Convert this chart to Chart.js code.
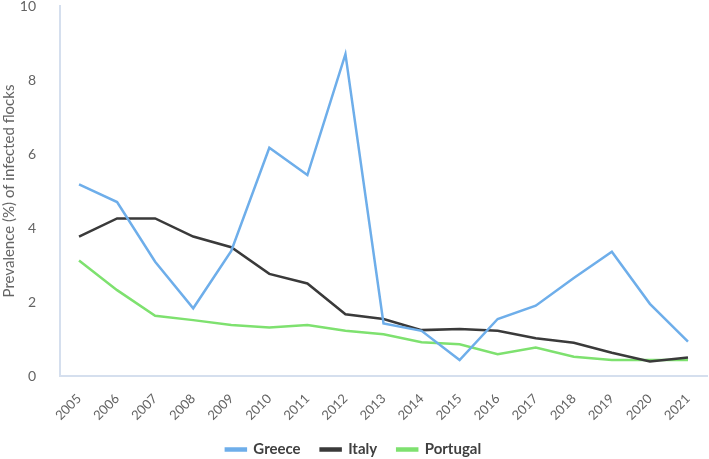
<!DOCTYPE html>
<html>
<head>
<meta charset="utf-8">
<script src="https://cdn.jsdelivr.net/npm/chart.js@4/dist/chart.umd.min.js"></script>
<style>
  html, body { margin: 0; padding: 0; background: #fff; }
  #wrap { width: 709px; height: 459px; position: relative; }
</style>
</head>
<body>
<div id="wrap"><canvas id="chart"></canvas></div>
<script>
// values
const years = ["2005", "2006", "2007", "2008", "2009", "2010", "2011", "2012", "2013",
    "2014", "2015", "2016", "2017", "2018", "2019", "2020", "2021"];
const greece = [5.18, 4.70, 3.09, 1.83, 3.38, 6.17, 5.43, 8.70, 1.42, 1.22, 0.43, 1.54, 1.90, 2.65, 3.36, 1.95, 0.93];
const italy = [3.77, 4.26, 4.26, 3.77, 3.48, 2.76, 2.50, 1.67, 1.54, 1.24, 1.27, 1.22, 1.02, 0.90, 0.63, 0.39, 0.50];
const portugal = [3.12, 2.32, 1.63, 1.51, 1.38, 1.31, 1.38, 1.22, 1.13, 0.91, 0.86, 0.59, 0.77, 0.52, 0.43, 0.43, 0.43];
const yTicks = [0, 2, 4, 6, 8, 10];

const axisColor = "#d5dfee";
const tickColor = "#646464";
const fontFamily = "Lato, 'Open Sans', sans-serif";

function series(label, data, color) {
    return {
        label,
        data,
        borderColor: color,
        backgroundColor: color,
        borderWidth: 2.5,
        pointRadius: 0,
        pointHoverRadius: 0,
        tension: 0,
        fill: false,
    };
}

new Chart(document.getElementById("chart"), {
    type: "line",
    data: {
        labels: years,
        datasets: [
            series("Greece", greece, "#6eaeea"),
            series("Italy", italy, "#3a3a3a"),
            series("Portugal", portugal, "#7ee16f"),
        ],
    },
    options: {
        responsive: true,
        maintainAspectRatio: false,
        animation: false,
        // legend sits low in the reference, so the bottom padding is pulled negative
        layout: { padding: { top: 0, right: 2, bottom: -8, left: 0 } },
        scales: {
            x: {
                offset: true,
                afterFit: (scale) => { scale.height = 46; },
                grid: { display: false },
                border: { color: axisColor, width: 2 },
                ticks: {
                    color: tickColor,
                    font: { family: fontFamily, size: 13 },
                    minRotation: 45,
                    maxRotation: 45,
                    autoSkip: false,
                    padding: 7,
                },
            },
            y: {
                min: 0,
                max: 10,
                afterBuildTicks: (scale) => { scale.ticks = yTicks.map(v => ({ value: v })); },
                afterFit: (scale) => {
                    scale.width = 60;
                    scale.paddingTop = 6;
                    scale.paddingBottom = 0;
                },
                grid: { display: false },
                border: { color: axisColor, width: 2 },
                ticks: {
                    color: tickColor,
                    font: { family: fontFamily, size: 14 },
                    padding: 16,
                },
                title: {
                    display: true,
                    text: "Prevalence (%) of infected flocks",
                    color: tickColor,
                    font: { family: fontFamily, size: 15 },
                    padding: 0,
                },
            },
        },
        plugins: {
            legend: {
                position: "bottom",
                labels: {
                    color: "#404040",
                    font: { family: fontFamily, size: 15, weight: "bold" },
                    boxWidth: 20,
                    boxHeight: 2,
                    padding: 20,
                },
            },
            tooltip: { enabled: false },
        },
    },
});
</script>
</body>
</html>
